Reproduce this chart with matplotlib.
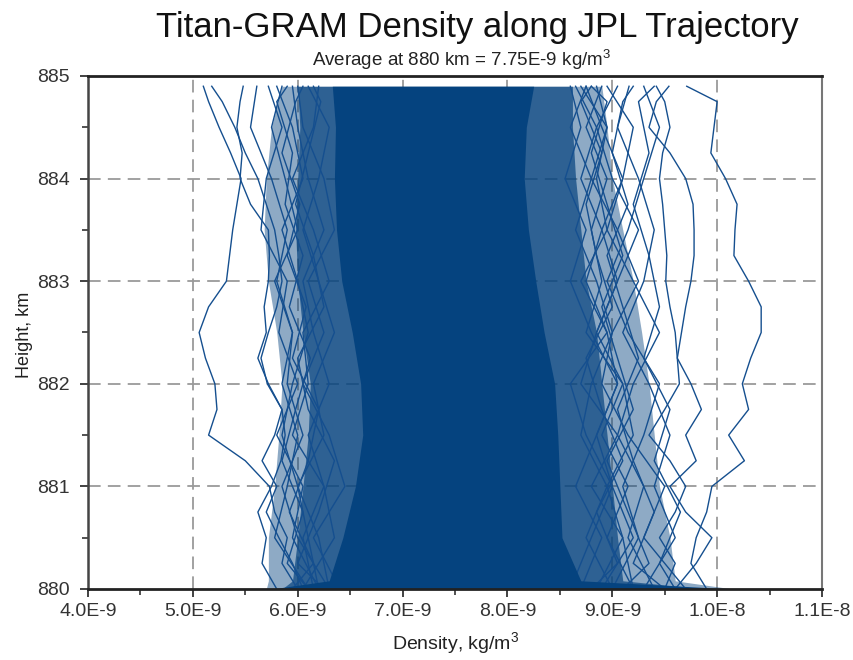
import numpy as np
import matplotlib.pyplot as plt
from matplotlib.ticker import MultipleLocator

plt.rcParams['font.family'] = ['Liberation Sans', 'DejaVu Sans']
plt.rcParams['mathtext.fontset'] = 'custom'
plt.rcParams['mathtext.rm'] = 'Liberation Sans'
plt.rcParams['mathtext.it'] = 'Liberation Sans:italic'

E9 = 1e-9
BLUE = '#05437f'
LINE = '#154f8f'

# envelopes of the dense Monte Carlo bundle (densities in 1E-9 kg/m3)
env_h = [880.0, 880.08, 880.5, 881.0, 881.5, 882.0, 882.5, 883.0, 883.5, 884.0, 884.5, 884.9]
core_left = [5.75, 6.30, 6.43, 6.55, 6.62, 6.60, 6.52, 6.42, 6.37, 6.35, 6.36, 6.33]
core_right = [10.15, 8.70, 8.52, 8.50, 8.48, 8.45, 8.35, 8.27, 8.20, 8.16, 8.18, 8.25]
inner_left = [5.85, 5.95, 6.00, 6.05, 6.10, 6.12, 6.05, 6.00, 5.98, 6.00, 6.02, 6.00]
inner_right = [9.90, 9.10, 9.05, 9.00, 8.95, 8.90, 8.85, 8.75, 8.70, 8.65, 8.62, 8.62]
outer_left = [5.70, 5.72, 5.72, 5.78, 5.82, 5.85, 5.80, 5.72, 5.68, 5.70, 5.75, 5.85]
outer_right = [10.15, 9.60, 9.55, 9.45, 9.40, 9.35, 9.28, 9.20, 9.10, 9.00, 8.95, 8.90]

# outlying profiles, every 0.25 km
h_fine = [880.0, 880.25, 880.5, 880.75, 881.0, 881.25, 881.5, 881.75, 882.0, 882.25,
          882.5, 882.75, 883.0, 883.25, 883.5, 883.75, 884.0, 884.25, 884.5, 884.75, 884.9]
outer_r1 = [9.90, 9.75, 9.80, 9.90, 9.95, 10.26, 10.11, 10.30, 10.24, 10.32, 10.42,
            10.42, 10.30, 10.16, 10.17, 10.19, 10.08, 9.94, 9.97, 10.00, 9.71]
outer_r2 = [9.60, 9.80, 9.95, 9.70, 9.55, 9.80, 9.70, 9.85, 9.75, 9.62, 9.66,
            9.70, 9.75, 9.78, 9.78, 9.77, 9.70, 9.55, 9.35, 9.42, 9.54]
outer_r3 = [9.50, 9.60, 9.45, 9.60, 9.70, 9.55, 9.35, 9.50, 9.64, 9.62, 9.60,
            9.55, 9.51, 9.52, 9.50, 9.48, 9.45, 9.48, 9.55, 9.50, 9.42]
outer_l1 = [6.00, 5.85, 5.90, 5.78, 5.73, 5.50, 5.15, 5.23, 5.21, 5.12, 5.06,
            5.15, 5.32, 5.35, 5.38, 5.42, 5.46, 5.36, 5.25, 5.15, 5.10]
outer_l2 = [6.05, 5.95, 5.82, 5.70, 5.80, 5.66, 5.78, 5.85, 5.71, 5.65, 5.72,
            5.80, 5.85, 5.82, 5.78, 5.70, 5.62, 5.50, 5.40, 5.28, 5.18]
outer_l3 = [5.80, 5.66, 5.70, 5.62, 5.75, 5.84, 5.88, 5.85, 5.72, 5.62, 5.70,
            5.68, 5.72, 5.73, 5.72, 5.55, 5.45, 5.47, 5.42, 5.45, 5.48]

# fringe profiles, every 0.5 km
h_coarse = [880.0, 880.5, 881.0, 881.5, 882.0, 882.5, 883.0, 883.5, 884.0, 884.5, 884.9]
fringe_l4 = [6.10, 5.78, 5.90, 6.00, 5.85, 5.95, 5.80, 5.90, 5.75, 5.55, 5.61]
fringe_l5 = [6.20, 5.95, 6.05, 5.80, 6.00, 5.82, 5.90, 5.65, 5.70, 5.85, 5.72]
fringe_l6 = [6.30, 6.00, 5.85, 6.05, 5.90, 5.95, 5.78, 6.00, 5.88, 5.75, 5.85]
fringe_l7 = [6.20, 6.10, 6.00, 5.85, 5.95, 6.10, 6.00, 5.85, 6.05, 5.95, 5.80]
fringe_l8 = [6.15, 6.05, 6.25, 6.10, 6.30, 6.15, 6.05, 6.25, 6.10, 6.00, 5.95]
fringe_l9 = [6.30, 6.20, 6.00, 6.25, 6.15, 6.35, 6.20, 6.05, 6.20, 6.30, 6.10]
fringe_l10 = [6.05, 6.35, 6.25, 5.95, 6.10, 6.05, 6.30, 6.15, 5.95, 6.15, 6.20]
fringe_l11 = [6.40, 6.15, 6.45, 6.30, 6.05, 6.25, 6.10, 6.35, 6.25, 6.05, 6.00]
fringe_r4 = [9.30, 9.60, 9.40, 9.55, 9.35, 9.10, 9.30, 9.40, 9.25, 9.05, 9.16]
fringe_r5 = [9.40, 9.15, 9.30, 9.05, 9.20, 9.45, 9.20, 8.95, 9.10, 9.20, 8.95]
fringe_r6 = [9.00, 9.25, 9.10, 9.30, 9.45, 9.15, 8.95, 9.15, 9.30, 9.45, 9.30]
fringe_r7 = [9.70, 9.30, 9.50, 9.15, 8.90, 9.00, 9.25, 9.05, 8.80, 8.95, 8.85]
fringe_r8 = [9.20, 9.10, 8.95, 9.20, 9.10, 8.85, 9.05, 9.25, 9.00, 8.85, 9.05]
fringe_r9 = [8.90, 9.20, 9.00, 8.85, 9.05, 8.95, 8.75, 8.90, 9.10, 8.90, 8.75]
fringe_r10 = [8.70, 8.90, 8.65, 8.85, 9.05, 8.80, 8.60, 8.75, 8.55, 8.70, 8.60]
fringe_r11 = [9.00, 8.75, 8.95, 8.70, 8.80, 9.00, 8.85, 8.65, 8.80, 8.60, 8.75]
fringe_r12 = [8.85, 9.10, 8.80, 9.05, 8.70, 8.85, 9.05, 8.90, 8.70, 8.85, 8.65]
fringe_r13 = [9.20, 8.95, 9.15, 8.90, 9.10, 8.75, 8.90, 8.80, 8.95, 8.75, 8.90]
fringe_r14 = [8.60, 8.80, 9.00, 8.75, 8.60, 8.95, 8.70, 8.95, 8.85, 8.95, 8.70]

# more fringe profiles, sampled half a step off
h_shift = [880.0, 880.25, 880.75, 881.25, 881.75, 882.25, 882.75, 883.25, 883.75,
           884.25, 884.75, 884.9]
shift_l12 = [6.10, 5.90, 6.05, 5.85, 5.98, 6.12, 5.92, 6.05, 5.88, 5.95, 5.80, 5.90]
shift_l13 = [5.95, 6.15, 5.92, 6.10, 6.20, 5.95, 6.08, 5.90, 6.02, 5.85, 5.98, 6.05]
shift_l14 = [6.25, 6.00, 6.20, 6.35, 6.10, 6.00, 6.25, 6.15, 5.98, 6.10, 6.22, 6.15]
shift_r15 = [9.10, 9.35, 9.15, 8.95, 9.20, 9.05, 8.90, 9.10, 8.95, 8.80, 8.95, 8.80]
shift_r16 = [9.50, 9.20, 9.40, 9.20, 9.05, 9.25, 9.10, 8.95, 9.15, 9.00, 9.10, 9.20]
shift_r17 = [8.80, 9.05, 8.85, 9.10, 8.90, 8.75, 9.00, 8.85, 8.75, 8.90, 8.70, 8.80]
shift_r18 = [9.60, 9.45, 9.65, 9.40, 9.55, 9.30, 9.45, 9.35, 9.20, 9.35, 9.25, 9.40]

x_ticks = [4, 5, 6, 7, 8, 9, 10, 11]
x_labels = ['4.0E-9', '5.0E-9', '6.0E-9', '7.0E-9', '8.0E-9', '9.0E-9', '1.0E-8', '1.1E-8']
y_ticks = [880, 881, 882, 883, 884, 885]

fig = plt.figure(figsize=(8.54, 6.6), dpi=100)
ax = fig.add_axes([88/854, 71/660, 734/854, 513/660])

ax.fill_betweenx(env_h, np.array(outer_left)*E9, np.array(outer_right)*E9,
                 color=BLUE, alpha=0.45, lw=0, zorder=1)
ax.fill_betweenx(env_h, np.array(inner_left)*E9, np.array(inner_right)*E9,
                 color=BLUE, alpha=0.7, lw=0, zorder=1.1)

for d in [outer_r1, outer_r2, outer_r3, outer_l1, outer_l2, outer_l3]:
    ax.plot(np.array(d)*E9, h_fine, color=LINE, lw=1.0, zorder=2)

fringe = [fringe_l4, fringe_l5, fringe_l6, fringe_l7, fringe_l8, fringe_l9, fringe_l10,
          fringe_l11, fringe_r4, fringe_r5, fringe_r6, fringe_r7, fringe_r8, fringe_r9,
          fringe_r10, fringe_r11, fringe_r12, fringe_r13, fringe_r14]
for d in fringe:
    ax.plot(np.array(d)*E9, h_coarse, color=LINE, lw=1.0, zorder=2)

for d in [shift_l12, shift_l13, shift_l14, shift_r15, shift_r16, shift_r17, shift_r18]:
    ax.plot(np.array(d)*E9, h_shift, color=LINE, lw=1.0, zorder=2)

ax.fill_betweenx(env_h, np.array(core_left)*E9, np.array(core_right)*E9,
                 color=BLUE, lw=0, zorder=3)

# dashed grid behind the data
for x in x_ticks[1:-1]:
    ax.axvline(x*E9, color='#9a9a9a', lw=1.3, ls=(0, (7, 4)), zorder=0.5)
for y in y_ticks[1:-1]:
    ax.axhline(y, color='#9a9a9a', lw=1.3, ls=(0, (7, 4)), zorder=0.5)

ax.set_xlim(4*E9, 11*E9)
ax.set_ylim(880, 885)
ax.set_xticks([x*E9 for x in x_ticks])
ax.set_xticklabels(x_labels)
ax.set_yticks(y_ticks)
ax.xaxis.set_minor_locator(MultipleLocator(0.5*E9))
ax.yaxis.set_minor_locator(MultipleLocator(0.5))
ax.tick_params(which='major', direction='out', length=6, width=1.3, color='#333333',
               labelsize=14, labelcolor='#333333')
ax.tick_params(axis='y', which='major', pad=7)
ax.tick_params(axis='x', which='major', pad=4)
ax.tick_params(which='minor', direction='out', length=4, width=1.2, color='#333333')

ax.spines['left'].set_color('#444444')
ax.spines['left'].set_linewidth(1.8)
ax.spines['bottom'].set_color('#222222')
ax.spines['bottom'].set_linewidth(2.0)
ax.spines['top'].set_color('#222222')
ax.spines['top'].set_linewidth(2.0)
ax.spines['right'].set_color('#777777')
ax.spines['right'].set_linewidth(1.5)
for s in ax.spines.values():
    s.set_zorder(5)

fig.text(477/854, 1 - 28/660, 'Titan-GRAM Density along JPL Trajectory',
         ha='center', va='center', fontsize=25, color='#111111')
fig.text(462/854, 1 - 60/660, 'Average at 880 km = 7.75E-9 kg/m$^3$',
         ha='center', va='center', fontsize=13.5, color='#222222')
fig.text(456/854, 1 - 643/660, 'Density, kg/m$^3$',
         ha='center', va='center', fontsize=14, color='#222222')
fig.text(25/854, 1 - 335/660, 'Height, km', rotation=90,
         ha='center', va='center', fontsize=13, color='#222222')

fig.savefig('out.png', dpi=100)
